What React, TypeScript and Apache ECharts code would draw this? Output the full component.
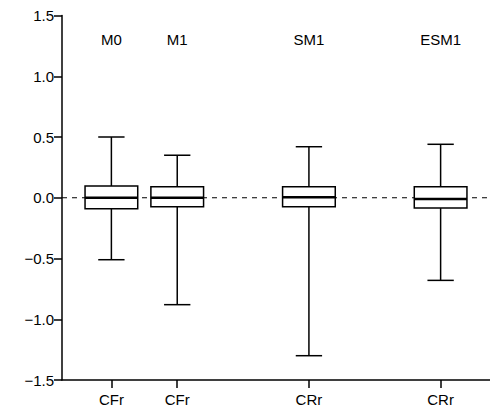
import React, { useEffect, useRef } from "react";
import * as echarts from "echarts";

const groups = ["M0", "M1", "SM1", "ESM1"];
const xLabels = ["CFr", "CFr", "CRr", "CRr"];
const xPos = [3, 7, 15, 23];
// [min, Q1, median, Q3, max]
const boxes = [
  [-0.51, -0.09, 0.0, 0.097, 0.5],
  [-0.88, -0.075, 0.0, 0.09, 0.35],
  [-1.3, -0.075, 0.005, 0.09, 0.42],
  [-0.68, -0.085, -0.01, 0.09, 0.44],
];
const yTicks = [-1.5, -1.0, -0.5, 0.0, 0.5, 1.0, 1.5];

const App = () => {
  const ref = useRef<HTMLDivElement>(null);

  useEffect(() => {
    if (!ref.current) return;
    const chart = echarts.init(ref.current, null, { renderer: "svg" });
    const font = "Liberation Sans";
    const halfW = 27 / 16.875; // box half width in x units
    chart.setOption({
      animation: false,
      textStyle: { fontFamily: font },
      grid: { left: 54, right: 0, top: 7, bottom: 30 },
      xAxis: {
        type: "value",
        min: 0,
        max: 26,
        axisLine: { onZero: false, lineStyle: { color: "#000", width: 1.5 } },
        splitLine: { show: false },
        axisTick: { customValues: xPos, length: 8, lineStyle: { color: "#000", width: 1.5 } },
        axisLabel: {
          customValues: xPos,
          formatter: (v: number) => xLabels[xPos.indexOf(v)] ?? "",
          color: "#000",
          fontSize: 15,
          margin: 12,
        },
      },
      yAxis: {
        type: "value",
        min: -1.5,
        max: 1.5,
        interval: 0.5,
        axisLine: { show: true, lineStyle: { color: "#000", width: 1.5 } },
        axisTick: { show: true, length: 8, lineStyle: { color: "#000", width: 1.5 } },
        splitLine: { show: false },
        axisLabel: {
          color: "#000",
          fontSize: 15,
          margin: 8,
          formatter: (v: any) => {
            const n = Number(v);
            if (!yTicks.some((t) => Math.abs(t - n) < 1e-9)) return "";
            const s = Math.abs(n).toFixed(1);
            return n < 0 ? "\u2212" + s : s;
          },
        },
      },
      series: [
        {
          type: "line",
          data: [[0, 0], [26, 0]],
          symbol: "none",
          lineStyle: { color: "#000", type: [5, 5], width: 1.2 },
          z: 1,
        },
        {
          type: "custom",
          z: 3,
          data: boxes.map((b, i) => [xPos[i], ...b]),
          renderItem: (params: any, api: any) => {
            const x = api.value(0);
            const [mn, q1, md, q3, mx] = [1, 2, 3, 4, 5].map((k) => api.value(k));
            const c = (xx: number, yy: number) => api.coord([xx, yy]);
            const l = c(x - halfW, 0)[0];
            const r = c(x + halfW, 0)[0];
            const cx = c(x, 0)[0];
            const capL = c(x - halfW * 0.5, 0)[0];
            const capR = c(x + halfW * 0.5, 0)[0];
            const y = (v: number) => c(x, v)[1];
            const st = { stroke: "#000", lineWidth: 1.5, fill: "none" };
            const i = params.dataIndex;
            return {
              type: "group",
              children: [
                { type: "line", shape: { x1: cx, y1: y(q3), x2: cx, y2: y(mx) }, style: st },
                { type: "line", shape: { x1: cx, y1: y(q1), x2: cx, y2: y(mn) }, style: st },
                { type: "line", shape: { x1: capL, y1: y(mx), x2: capR, y2: y(mx) }, style: st },
                { type: "line", shape: { x1: capL, y1: y(mn), x2: capR, y2: y(mn) }, style: st },
                { type: "rect", shape: { x: l, y: y(q3), width: r - l, height: y(q1) - y(q3) }, style: { stroke: "#000", lineWidth: 1.5, fill: "#fff" } },
                { type: "line", shape: { x1: l, y1: y(md), x2: r, y2: y(md) }, style: { stroke: "#000", lineWidth: 2.5 } },
                { type: "text", x: cx, y: y(1.3), style: { text: groups[i], fill: "#000", font: `15px ${font}`, align: "center", verticalAlign: "middle" } },
              ],
            };
          },
        },
      ],
    });
    return () => chart.dispose();
  }, []);

  return <div ref={ref} style={{ width: 482, height: 402 }} />;
};

export default App;
